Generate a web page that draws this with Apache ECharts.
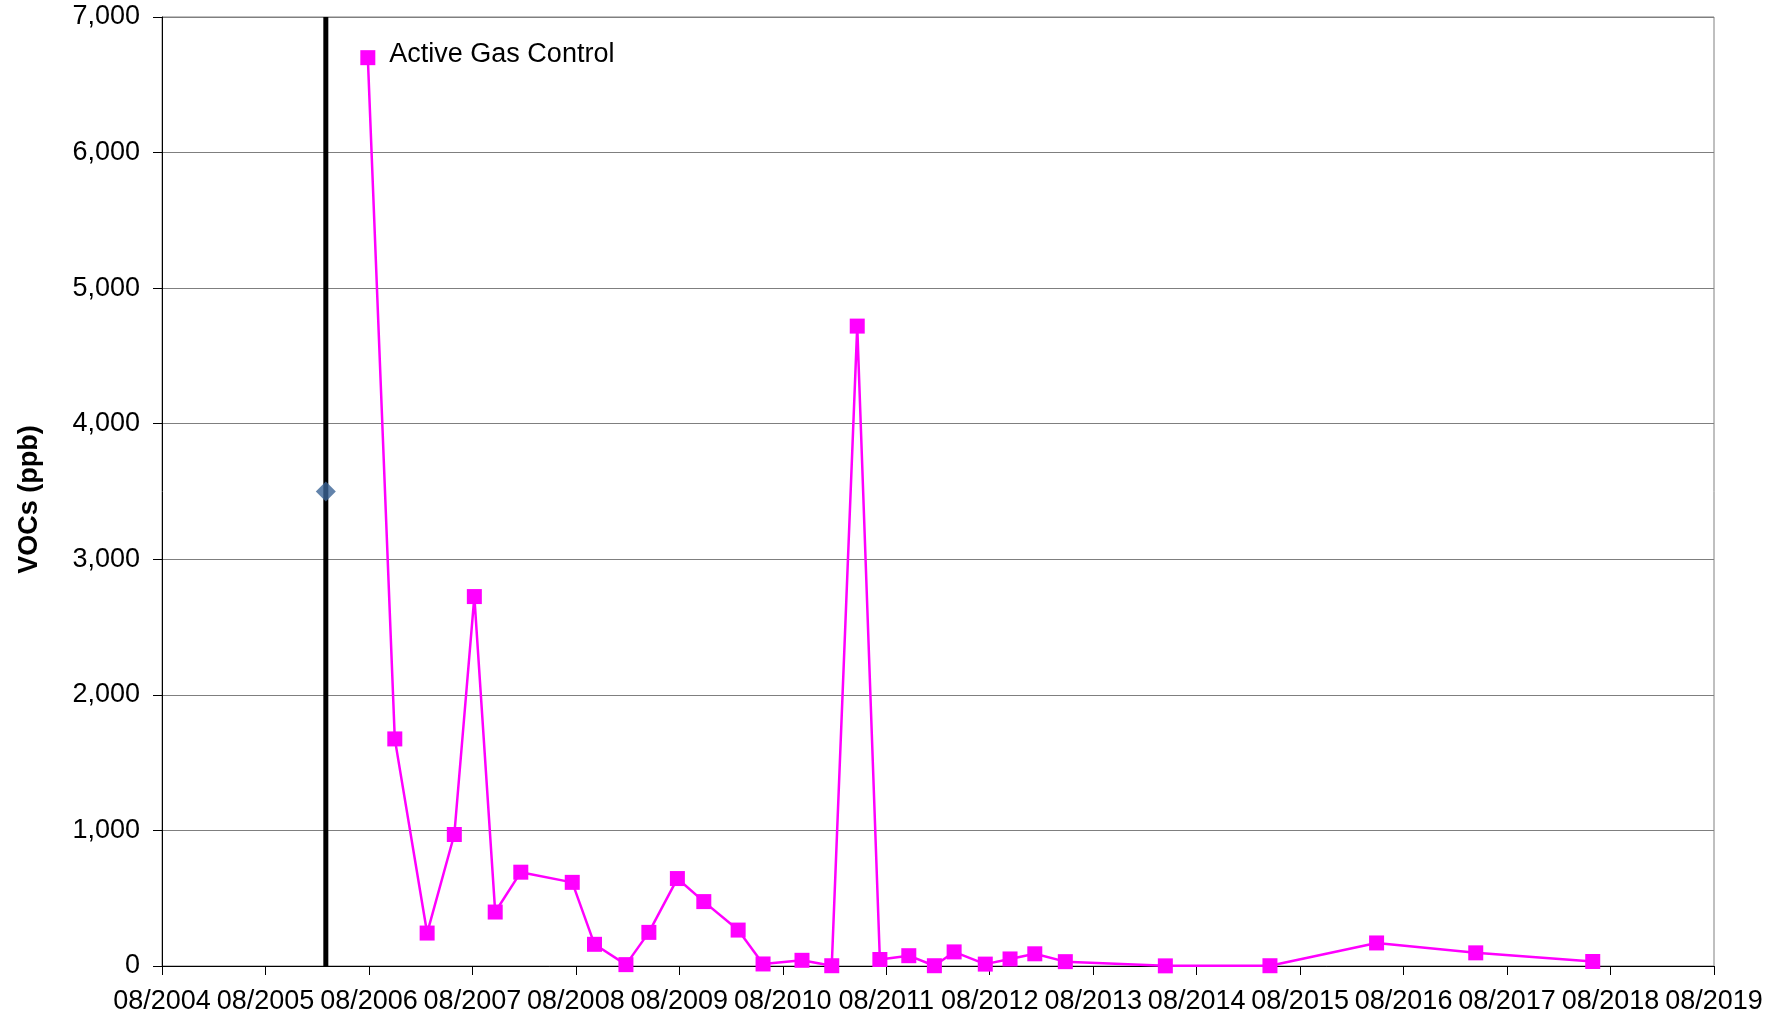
<!DOCTYPE html>
<html>
<head>
<meta charset="utf-8">
<script src="https://cdn.jsdelivr.net/npm/echarts@6/dist/echarts.min.js"></script>
<style>
  html, body { margin: 0; padding: 0; background: #ffffff; }
  #chart { width: 1780px; height: 1016px; }
</style>
</head>
<body>
<div id="chart"></div>
<script>
// ---- Data ----
const sampleDates = [
  '2006-07-28', '2006-11-01', '2007-02-22', '2007-05-29', '2007-08-08',
  '2007-10-21', '2008-01-20', '2008-07-19', '2008-10-06', '2009-01-26',
  '2009-04-15', '2009-07-25', '2009-10-27', '2010-02-24', '2010-05-23',
  '2010-10-08', '2011-01-22', '2011-04-20', '2011-07-09', '2011-10-20',
  '2012-01-19', '2012-03-28', '2012-07-16', '2012-10-12', '2013-01-08',
  '2013-04-24', '2014-04-12', '2015-04-16', '2016-04-27', '2017-04-12',
  '2018-05-30'
];
const vocValues = [
  6700, 1675, 243, 970, 2725,
  398, 692, 617, 160, 10,
  248, 645, 475, 265, 15,
  42, 2, 4720, 48, 76,
  2, 104, 14, 52, 90,
  32, 1, 2, 170, 97,
  33
];
const gasControlDate = '2006-03-01';
const gasControlMarkerValue = 3500;
const gasControlLabel = 'Active Gas Control';
const yAxisTitle = 'VOCs (ppb)';
const axisStart = { year: 2004, month: 8 };   // first tick 08/2004
const axisYears = 15;                          // last tick 08/2019
const yMin = 0, yMax = 7000, yStep = 1000;

// months elapsed since the first axis tick (08/2004)
function monthOffset(dateStr) {
  const [y, m, d] = dateStr.split('-').map(Number);
  const dim = new Date(y, m, 0).getDate();
  return (y - axisStart.year) * 12 + (m - axisStart.month) + (d - 1) / dim;
}

const font = 'Liberation Sans, Arial, sans-serif';

const vocData = sampleDates.map((d, i) => {
  const item = { value: [monthOffset(d), vocValues[i]] };
  if (i === 0) {
    item.label = {
      show: true, position: 'right', distance: 14, offset: [0, -3],
      formatter: gasControlLabel,
      color: '#000', fontSize: 27, fontFamily: font
    };
  }
  return item;
});
const gx = monthOffset(gasControlDate);

const chart = echarts.init(document.getElementById('chart'), null, { renderer: 'canvas' });
chart.setOption({
  animation: false,
  backgroundColor: '#ffffff',
  grid: {
    left: 162, right: 66, top: 17, bottom: 50,
    show: true, borderColor: '#808080', borderWidth: 1
  },
  xAxis: {
    type: 'value',
    min: 0, max: axisYears * 12, interval: 12,
    axisLine: { show: true, onZero: false, lineStyle: { color: '#000', width: 1 } },
    axisTick: { show: true, length: 9, lineStyle: { color: '#000' } },
    splitLine: { show: false },
    axisLabel: {
      show: true, margin: 22, color: '#000', fontSize: 27, fontFamily: font,
      showMinLabel: true, showMaxLabel: true, hideOverlap: false,
      formatter: v => String(axisStart.month).padStart(2, '0') + '/' + (axisStart.year + Math.round(v / 12))
    }
  },
  yAxis: {
    type: 'value',
    min: yMin, max: yMax, interval: yStep,
    name: yAxisTitle, nameLocation: 'middle', nameGap: 119, nameRotate: 90,
    nameTextStyle: { color: '#000', fontSize: 27, fontWeight: 'bold', fontFamily: font, padding: [0, 16, 0, 0] },
    axisLine: { show: true, lineStyle: { color: '#000', width: 1 } },
    axisTick: { show: true, length: 9, lineStyle: { color: '#000' } },
    splitLine: { show: true, lineStyle: { color: '#7f7f7f', width: 1 } },
    axisLabel: {
      margin: 22, color: '#000', fontSize: 27, fontFamily: font,
      formatter: v => v.toLocaleString('en-US')
    }
  },
  series: [
    {
      name: 'Active Gas Control line',
      type: 'line',
      data: [[gx, yMin], [gx, yMax]],
      symbol: 'none',
      lineStyle: { color: '#000', width: 5 },
      z: 2
    },
    {
      name: 'Active Gas Control',
      type: 'scatter',
      data: [[gx, gasControlMarkerValue]],
      symbol: 'diamond',
      symbolSize: 20,
      itemStyle: { color: '#3B6496' },
      z: 3
    },
    {
      name: 'VOCs',
      type: 'line',
      data: vocData,
      symbol: 'rect',
      symbolSize: 15,
      showAllSymbol: true,
      lineStyle: { color: '#FF00FF', width: 2.5 },
      itemStyle: { color: '#FF00FF' },
      z: 4
    }
  ]
});
</script>
</body>
</html>
